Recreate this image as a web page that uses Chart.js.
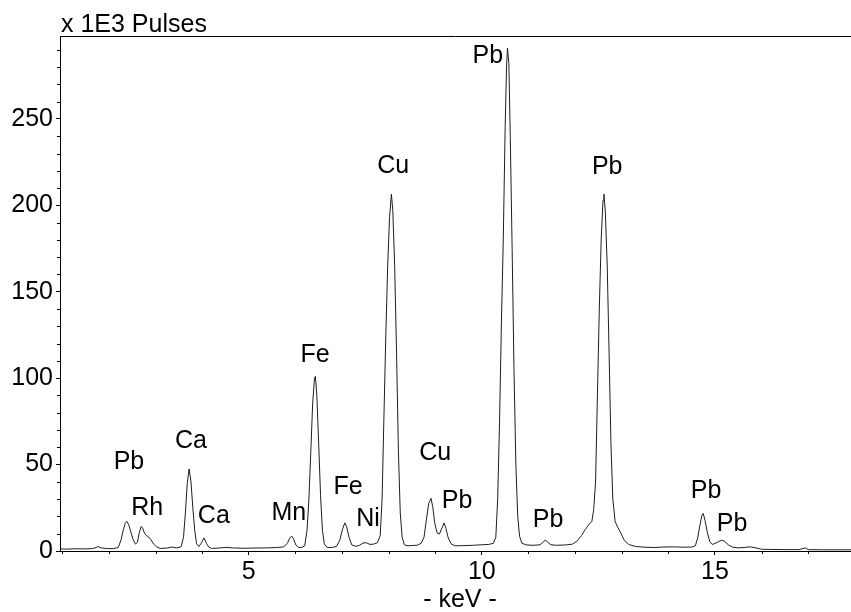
<!DOCTYPE html>
<html>
<head>
<meta charset="utf-8">
<script src="https://cdn.jsdelivr.net/npm/chart.js@4.4.1/dist/chart.umd.min.js"></script>
<style>
  html, body { margin: 0; padding: 0; background: #ffffff; }
  #wrap { width: 851px; height: 612px; }
</style>
</head>
<body>
<div id="wrap"><canvas id="spectrum" width="851" height="612"></canvas></div>
<script>
// XRF spectrum: energy (keV) and intensity (x 1000 pulses)
const energyKeV = [
  0.95, 1.10, 1.30, 1.50, 1.65, 1.72, 1.77, 1.83, 1.95, 2.10,
  2.20, 2.26, 2.31, 2.35, 2.38, 2.42, 2.47, 2.52, 2.57, 2.61,
  2.65, 2.69, 2.72, 2.76, 2.80, 2.85, 2.90, 2.96, 3.02, 3.10,
  3.25, 3.35, 3.45, 3.55, 3.60, 3.64, 3.68, 3.72, 3.76, 3.80,
  3.84, 3.88, 3.93, 3.98, 4.04, 4.09, 4.14, 4.20, 4.35, 4.53,
  4.65, 4.85, 5.10, 5.40, 5.60, 5.75, 5.83, 5.88, 5.92, 5.96,
  6.01, 6.07, 6.14, 6.20, 6.25, 6.29, 6.33, 6.37, 6.41, 6.43,
  6.46, 6.50, 6.54, 6.58, 6.62, 6.68, 6.78, 6.88, 6.95, 7.01,
  7.06, 7.10, 7.15, 7.21, 7.30, 7.38, 7.45, 7.52, 7.60, 7.68,
  7.76, 7.82, 7.86, 7.90, 7.94, 7.98, 8.02, 8.06, 8.09, 8.13,
  8.17, 8.21, 8.25, 8.29, 8.34, 8.42, 8.52, 8.62, 8.70, 8.76,
  8.81, 8.86, 8.91, 8.95, 8.99, 9.04, 9.09, 9.14, 9.19, 9.23,
  9.28, 9.34, 9.42, 9.60, 9.80, 10.00, 10.15, 10.25, 10.30, 10.34,
  10.38, 10.42, 10.46, 10.50, 10.53, 10.55, 10.58, 10.61, 10.65, 10.69,
  10.73, 10.77, 10.81, 10.86, 10.95, 11.10, 11.25, 11.31, 11.36, 11.41,
  11.48, 11.60, 11.80, 11.95, 12.05, 12.14, 12.22, 12.30, 12.36, 12.40,
  12.44, 12.48, 12.52, 12.56, 12.60, 12.62, 12.65, 12.69, 12.73, 12.77,
  12.81, 12.86, 12.92, 12.98, 13.05, 13.15, 13.30, 13.50, 13.70, 13.90,
  14.10, 14.30, 14.50, 14.58, 14.63, 14.68, 14.72, 14.75, 14.79, 14.84,
  14.89, 14.94, 15.00, 15.08, 15.15, 15.21, 15.29, 15.38, 15.50, 15.65,
  15.76, 15.88, 16.00, 16.20, 16.50, 16.80, 16.94, 17.00, 17.30, 17.60,
  17.92
];

const pulsesK = [
  1.2, 1.1, 1.3, 1.2, 1.4, 2.0, 2.6, 1.8, 1.4, 1.4,
  2.0, 6.5, 12.5, 16.0, 17.2, 15.5, 11.0, 6.5, 4.0, 5.0,
  10.5, 14.2, 13.5, 10.5, 9.0, 8.2, 6.5, 4.0, 2.4, 1.5,
  1.7, 2.3, 1.8, 2.5, 8.0, 22.0, 39.0, 47.5, 40.0, 25.0,
  12.0, 4.2, 2.6, 4.5, 7.6, 4.5, 2.3, 1.5, 1.7, 2.1,
  1.8, 1.6, 1.7, 1.8, 2.0, 2.4, 4.5, 7.5, 8.6, 7.0,
  3.5, 2.0, 2.1, 3.0, 12.0, 30.0, 57.0, 85.0, 100.0, 101.0,
  90.0, 62.0, 32.0, 12.0, 4.2, 2.0, 2.0, 2.6, 6.0, 12.5,
  16.3, 14.0, 8.0, 3.5, 2.7, 3.3, 4.6, 4.8, 3.8, 4.0,
  4.8, 9.0, 30.0, 78.0, 125.0, 165.0, 193.0, 206.5, 197.0, 165.0,
  115.0, 58.0, 22.0, 8.0, 3.5, 3.0, 3.2, 3.4, 4.5, 8.0,
  18.0, 27.5, 30.5, 25.0, 16.0, 10.5, 9.8, 13.0, 16.2, 13.0,
  7.5, 4.2, 3.0, 3.1, 3.3, 3.6, 3.8, 4.5, 8.0, 30.0,
  75.0, 132.0, 180.0, 245.0, 280.0, 291.0, 282.0, 240.0, 175.0, 105.0,
  50.0, 20.0, 8.5, 4.5, 3.5, 3.3, 3.6, 5.0, 6.3, 5.2,
  3.6, 3.3, 3.5, 4.0, 6.0, 9.0, 12.5, 15.5, 17.0, 24.0,
  40.0, 90.0, 140.0, 180.0, 203.0, 206.5, 196.0, 165.0, 115.0, 62.0,
  30.0, 17.0, 13.5, 10.5, 6.5, 3.8, 2.6, 2.2, 2.0, 2.3,
  2.4, 2.2, 2.3, 3.0, 7.5, 15.0, 20.5, 21.7, 17.5, 10.5,
  5.5, 3.8, 4.3, 5.5, 6.3, 5.5, 3.5, 2.2, 1.8, 2.1,
  2.4, 1.8, 1.0, 0.9, 0.8, 0.8, 1.8, 0.8, 0.7, 0.7,
  0.7
];

// Axis tick labels
const xTickValues = [5, 10, 15];
const yTickValues = [0, 50, 100, 150, 200, 250];

// Element labels placed over their peaks (energy in keV, height in x 1000 pulses)
const peakLabelText   = ['Pb', 'Rh', 'Ca', 'Ca', 'Mn', 'Fe', 'Fe', 'Ni', 'Cu', 'Cu', 'Pb', 'Pb', 'Pb', 'Pb', 'Pb', 'Pb'];
const peakLabelKeV    = [2.43, 2.82, 3.76, 4.25, 5.86, 6.42, 7.13, 7.56, 8.10, 9.00, 9.47, 10.13, 11.42, 12.69, 14.81, 15.37];
const peakLabelPulses = [51.7, 25.1, 63.8, 19.9, 21.7, 113.5, 36.7, 18.2, 222.7, 56.9, 28.6, 286.3, 17.6, 222.1, 34.4, 15.3];

const FONT_FAMILY = '"Liberation Sans", Arial, Helvetica, sans-serif';
const TEXT_SIZE = 25;

const points = energyKeV.map((e, i) => ({ x: e, y: pulsesK[i] }));

// Minor ticks, frame line, axis captions and peak labels
const decorations = {
  id: 'decorations',
  afterDraw(chart) {
    const { ctx, chartArea, scales } = chart;
    const xs = scales.x, ys = scales.y;
    ctx.save();
    ctx.strokeStyle = '#000000';
    ctx.lineWidth = 1;

    // top frame line
    ctx.beginPath();
    ctx.moveTo(chartArea.left, Math.round(chartArea.top) + 0.5);
    ctx.lineTo(chartArea.right, Math.round(chartArea.top) + 0.5);
    ctx.stroke();

    // minor ticks every 1 keV and every 10 k pulses
    ctx.beginPath();
    for (let k = 1; k <= 17; k++) {
      if (xTickValues.includes(k)) continue;
      const px = Math.round(xs.getPixelForValue(k)) + 0.5;
      ctx.moveTo(px, chartArea.bottom);
      ctx.lineTo(px, chartArea.bottom + 3);
    }
    for (let v = 10; v < ys.max; v += 10) {
      if (yTickValues.includes(v)) continue;
      const py = Math.round(ys.getPixelForValue(v)) + 0.5;
      ctx.moveTo(chartArea.left, py);
      ctx.lineTo(chartArea.left - 3, py);
    }
    ctx.stroke();

    ctx.fillStyle = '#000000';
    ctx.font = TEXT_SIZE + 'px ' + FONT_FAMILY;

    // y axis caption
    ctx.textAlign = 'left';
    ctx.textBaseline = 'alphabetic';
    ctx.fillText('x 1E3 Pulses', 61, 32);

    // x axis caption
    ctx.textAlign = 'center';
    ctx.fillText('- keV -', 460, 607);

    // element labels
    ctx.textBaseline = 'middle';
    peakLabelText.forEach((t, i) => {
      ctx.fillText(t, xs.getPixelForValue(peakLabelKeV[i]), ys.getPixelForValue(peakLabelPulses[i]));
    });
    ctx.restore();
  }
};

new Chart(document.getElementById('spectrum'), {
  type: 'line',
  data: {
    datasets: [{
      data: points,
      borderColor: '#1e1e1e',
      borderWidth: 1,
      pointRadius: 0,
      tension: 0,
      fill: false
    }]
  },
  options: {
    responsive: false,
    animation: false,
    devicePixelRatio: 1,
    layout: { padding: { top: 36, right: 0, bottom: 0, left: 0 } },
    plugins: {
      legend: { display: false },
      tooltip: { enabled: false },
      title: { display: false }
    },
    scales: {
      x: {
        type: 'linear',
        position: 'bottom',
        min: 0.95,
        max: 17.92,
        afterBuildTicks: (s) => { s.ticks = xTickValues.map(v => ({ value: v })); },
        afterFit: (s) => { s.height = 61; },
        border: { display: true, color: '#000000', width: 1 },
        grid: { drawOnChartArea: false, drawTicks: true, tickLength: 4, tickColor: '#000000' },
        ticks: {
          color: '#000000',
          padding: 2,
          maxRotation: 0,
          autoSkip: false,
          font: { family: FONT_FAMILY, size: TEXT_SIZE }
        }
      },
      y: {
        type: 'linear',
        min: 0,
        max: 298,
        afterBuildTicks: (s) => { s.ticks = yTickValues.map(v => ({ value: v })); },
        afterFit: (s) => { s.width = 60; },
        border: { display: true, color: '#000000', width: 1 },
        grid: { drawOnChartArea: false, drawTicks: true, tickLength: 4, tickColor: '#000000' },
        ticks: {
          color: '#000000',
          padding: 3,
          autoSkip: false,
          font: { family: FONT_FAMILY, size: TEXT_SIZE }
        }
      }
    }
  },
  plugins: [decorations]
});
</script>
</body>
</html>
